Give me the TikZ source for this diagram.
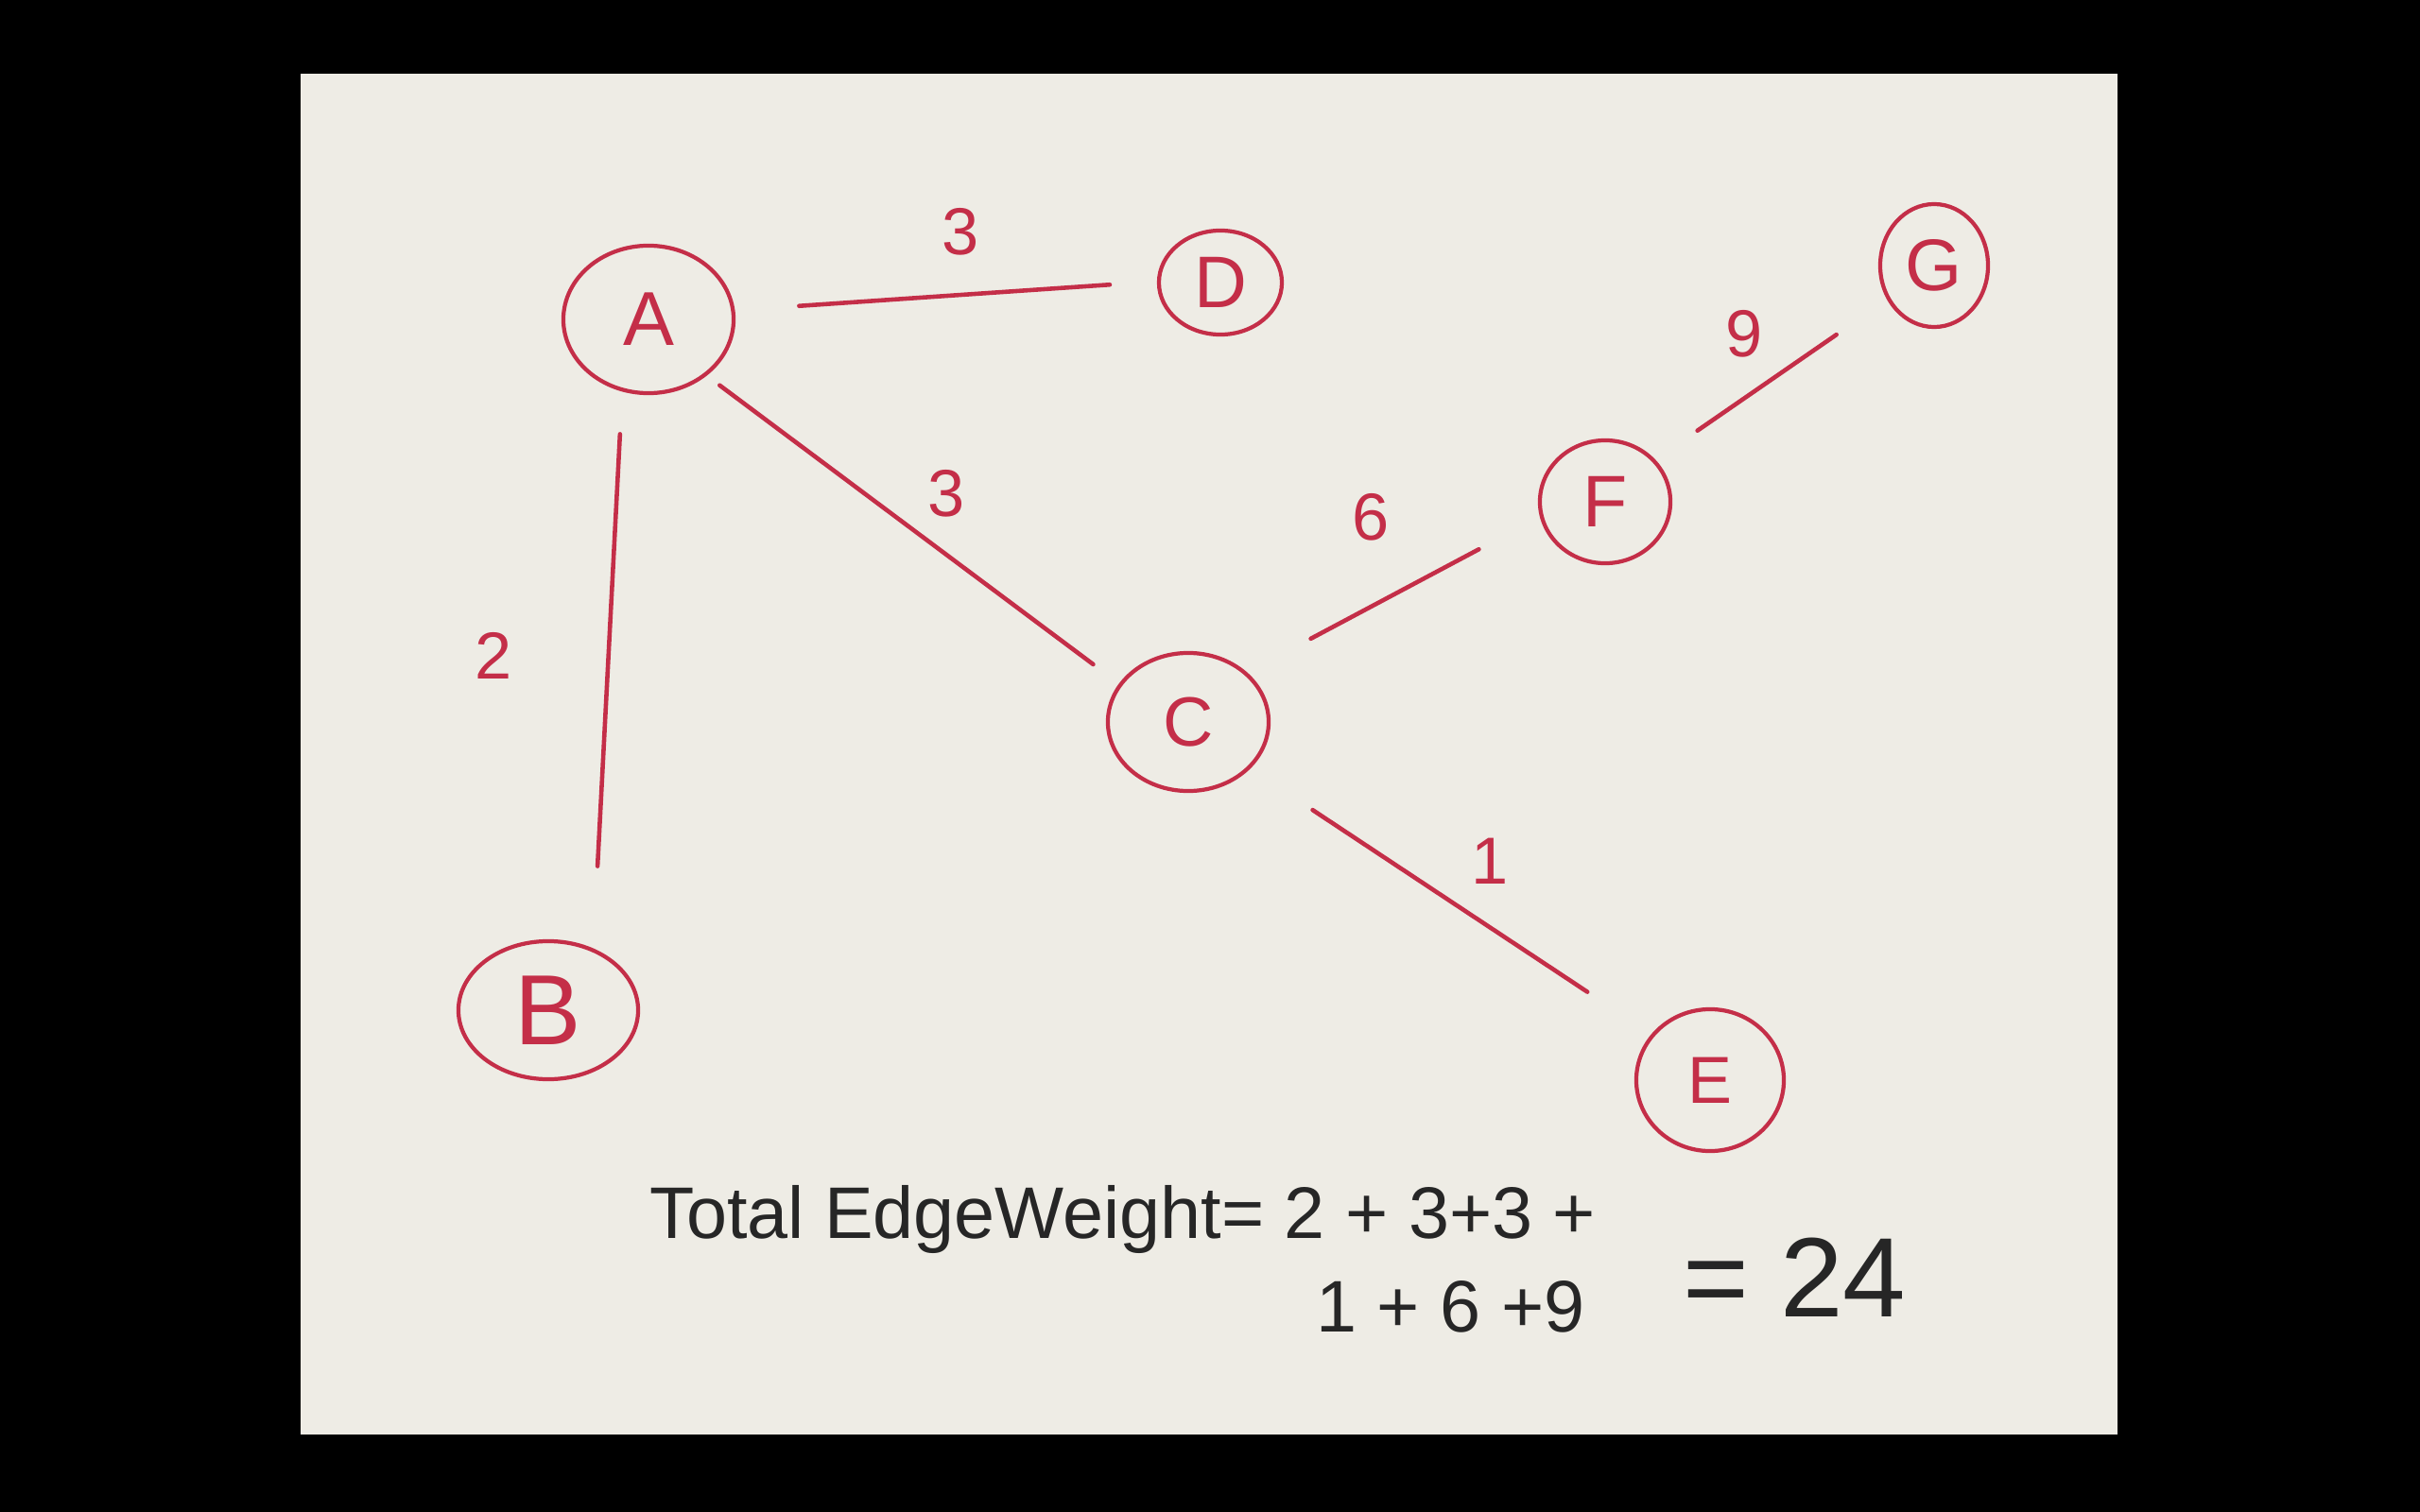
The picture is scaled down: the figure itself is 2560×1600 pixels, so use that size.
\documentclass[tikz,border=0pt]{standalone}
\usepackage{fontspec}
\setmainfont{Liberation Sans}
\usetikzlibrary{shapes.geometric}
\definecolor{ink}{HTML}{C42E48}
\definecolor{paper}{HTML}{EEECE5}
\definecolor{pencil}{HTML}{262626}
\begin{document}
\begin{tikzpicture}[x=0.01cm,y=-0.01cm,
  vert/.style={ellipse,draw=ink,line width=1.2pt,inner sep=0pt,text=ink},
  edge/.style={draw=ink,line width=1.3pt,line cap=round},
  wlab/.style={text=ink,font=\fontsize{20}{20}\selectfont},
  total/.style={text=pencil,font=\fontsize{22}{24}\selectfont,anchor=west}]
\fill[black] (0,0) rectangle (2560,1600);
\fill[paper] (318,78) rectangle (2240,1518);
\useasboundingbox (0,0) rectangle (2560,1600);
% vertices
\node[vert,minimum width=1.80cm,minimum height=1.56cm,font=\fontsize{23}{23}\selectfont] (A) at (686,338) {A};
\node[vert,minimum width=1.30cm,minimum height=1.10cm,font=\fontsize{22}{22}\selectfont] (D) at (1291,299) {D};
\node[vert,minimum width=1.14cm,minimum height=1.30cm,font=\fontsize{22}{22}\selectfont] (G) at (2046,281) {G};
\node[vert,minimum width=1.38cm,minimum height=1.30cm,font=\fontsize{22}{22}\selectfont] (F) at (1698,531) {F};
\node[vert,minimum width=1.70cm,minimum height=1.46cm,font=\fontsize{21}{21}\selectfont] (C) at (1257,764) {C};
\node[vert,minimum width=1.90cm,minimum height=1.46cm,font=\fontsize{30}{30}\selectfont] (B) at (580,1069) {B};
\node[vert,minimum width=1.56cm,minimum height=1.50cm,font=\fontsize{20}{20}\selectfont] (E) at (1809,1143) {E};
% edges
\draw[edge,shorten <=0.68cm,shorten >=0.50cm] (A.6) -- (D.179);
\draw[edge,shorten <=0.17cm,shorten >=0.34cm] (A.-44) -- (C.151);
\draw[edge,shorten <=0.45cm,shorten >=0.87cm] (A.-110) -- (B.54);
\draw[edge,shorten <=0.76cm,shorten >=0.73cm] (C.40) -- (F.193);
\draw[edge,shorten <=0.54cm,shorten >=0.65cm] (F.40) -- (G.-144);
\draw[edge,shorten <=0.79cm,shorten >=0.81cm] (C.-37) -- (E.142);
% weights
\node[wlab] (wAD) at (1016,245) {3};
\node[wlab] (wAC) at (1001,522) {3};
\node[wlab] (wAB) at (522,694) {2};
\node[wlab] (wCF) at (1450,547) {6};
\node[wlab] (wFG) at (1845,353) {9};
\node[wlab] (wCE) at (1576,911) {1};
% total
\node[total] (t1) at (675,1290) {Total EdgeWeight= 2 + 3+3 +};
\node[total] (t2) at (1380,1383) {1 + 6 +9};
\node[total,font=\fontsize{34}{34}\selectfont] (t3) at (1768,1352) {= 24};
\end{tikzpicture}
\end{document}
